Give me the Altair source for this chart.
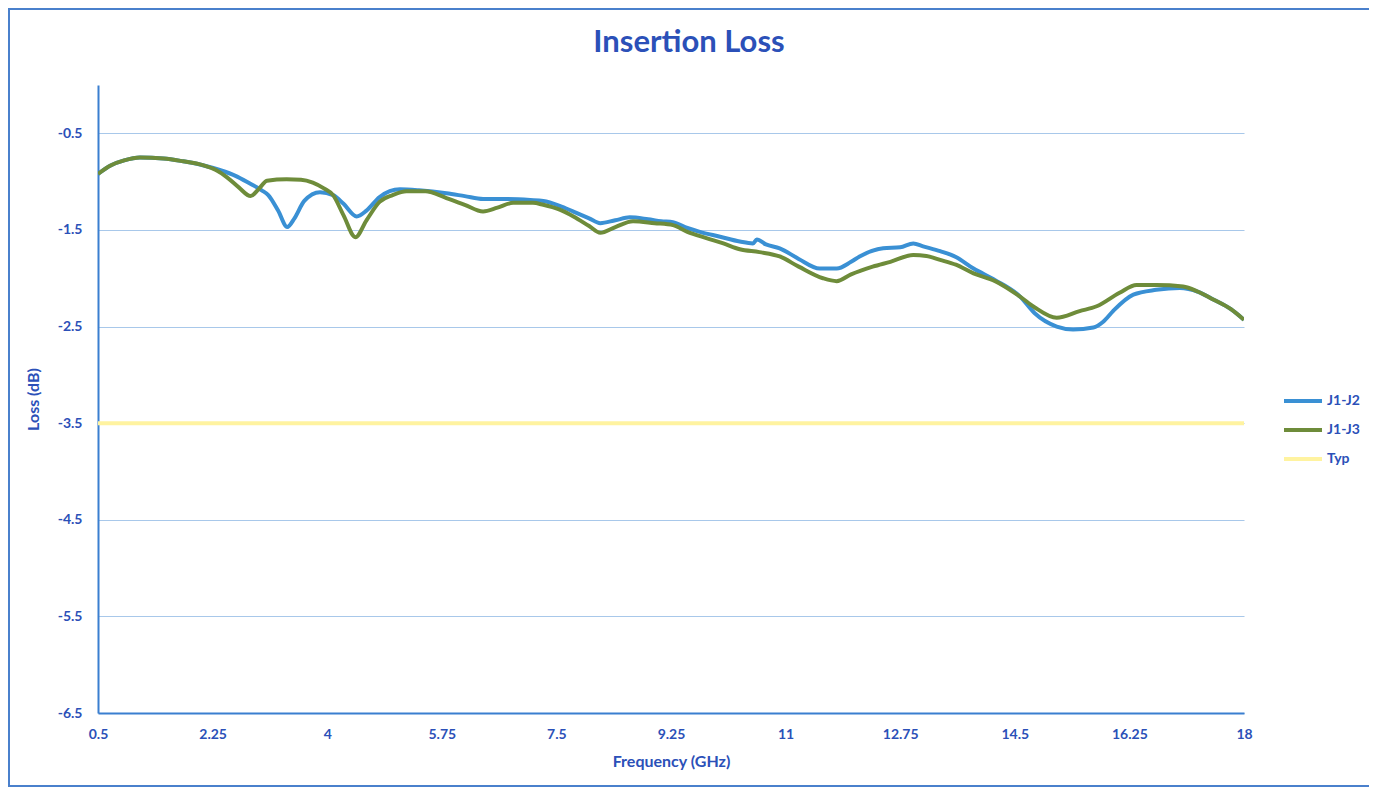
import altair as alt
import pandas as pd

# ---- data ----
j12_freq = [0.5, 0.7, 0.9, 1.14, 1.5, 1.8, 2.1, 2.36, 2.6, 2.82, 3.0, 3.1, 3.25, 3.39, 3.5, 3.65,
            3.89, 4.09, 4.25, 4.45, 4.6, 4.8, 5.11, 5.4, 5.82, 6.1, 6.38, 6.7, 7.1, 7.3, 7.55, 7.76,
            8.0, 8.17, 8.4, 8.62, 8.9, 9.1, 9.28, 9.5, 9.69, 10.0, 10.3, 10.5, 10.56, 10.7, 10.91,
            11.2, 11.52, 11.78, 12.0, 12.13, 12.49, 12.75, 12.95, 13.1, 13.36, 13.6, 13.87, 14.2,
            14.58, 14.8, 15.14, 15.39, 15.7, 15.85, 16.0, 16.31, 16.66, 17.02, 17.3, 17.53, 17.8, 18.0]
j12_loss = [-0.92, -0.83, -0.78, -0.75, -0.76, -0.79, -0.83, -0.88, -0.94, -1.02, -1.09, -1.14,
            -1.30, -1.47, -1.38, -1.20, -1.11, -1.14, -1.23, -1.36, -1.30, -1.16, -1.08, -1.09,
            -1.12, -1.15, -1.18, -1.18, -1.19, -1.20, -1.25, -1.31, -1.38, -1.43, -1.40, -1.37,
            -1.39, -1.41, -1.42, -1.48, -1.52, -1.57, -1.62, -1.64, -1.60, -1.65, -1.69, -1.80,
            -1.90, -1.90, -1.83, -1.775, -1.69, -1.68, -1.64, -1.67, -1.72, -1.78, -1.90, -2.02,
            -2.19, -2.36, -2.50, -2.53, -2.51, -2.45, -2.34, -2.17, -2.12, -2.10, -2.14, -2.22,
            -2.32, -2.43]

j13_freq = [0.5, 0.7, 0.9, 1.14, 1.5, 1.8, 2.1, 2.3, 2.46, 2.65, 2.83, 2.95, 3.08, 3.38, 3.6,
            3.78, 3.95, 4.09, 4.25, 4.43, 4.6, 4.8, 5.0, 5.21, 5.5, 5.82, 6.1, 6.38, 6.6, 6.84,
            7.14, 7.3, 7.55, 7.76, 8.0, 8.17, 8.4, 8.67, 9.0, 9.28, 9.5, 9.79, 10.05, 10.3, 10.6,
            10.91, 11.2, 11.57, 11.78, 12.0, 12.33, 12.6, 12.95, 13.15, 13.36, 13.6, 13.87, 14.2,
            14.58, 14.8, 15.14, 15.49, 15.75, 16.1, 16.36, 16.66, 17.07, 17.3, 17.53, 17.8, 18.0]
j13_loss = [-0.92, -0.83, -0.78, -0.75, -0.76, -0.79, -0.83, -0.88, -0.95, -1.06, -1.15, -1.08,
            -0.99, -0.975, -0.98, -1.01, -1.07, -1.14, -1.35, -1.575, -1.40, -1.21, -1.14, -1.10,
            -1.10, -1.17, -1.24, -1.31, -1.27, -1.22, -1.22, -1.24, -1.29, -1.36, -1.46, -1.53,
            -1.47, -1.41, -1.43, -1.45, -1.52, -1.585, -1.64, -1.70, -1.73, -1.775, -1.88, -2.00,
            -2.03, -1.96, -1.88, -1.83, -1.76, -1.77, -1.81, -1.86, -1.95, -2.03, -2.19, -2.30,
            -2.41, -2.34, -2.29, -2.15, -2.07, -2.07, -2.085, -2.14, -2.22, -2.32, -2.43]

typ_freq = [0.5, 18.0]
typ_loss = [-3.5, -3.5]

series_names = ["J1-J2", "J1-J3", "Typ"]
series_colors = ["#3a90d4", "#6e8c3a", "#fff3a0"]
x_ticks = [0.5, 2.25, 4, 5.75, 7.5, 9.25, 11, 12.75, 14.5, 16.25, 18]
y_ticks = [-0.5, -1.5, -2.5, -3.5, -4.5, -5.5, -6.5]
chart_title = ["Insertion Loss"]

rows = []
for name, fr, ls in [("J1-J2", j12_freq, j12_loss), ("J1-J3", j13_freq, j13_loss), ("Typ", typ_freq, typ_loss)]:
    for f, l in zip(fr, ls):
        rows.append({"freq": f, "loss": l, "series": name})
df = pd.DataFrame(rows)

TEXT = "#2b50b8"
FONT = "Lato"

lines = alt.Chart(df).mark_line(interpolate="monotone", clip=True).encode(
    x=alt.X("freq:Q", scale=alt.Scale(domain=[0.5, 18], nice=False, zero=False),
            axis=alt.Axis(values=x_ticks, title="Frequency (GHz)", grid=False, ticks=False,
                          labelExpr="'' + datum.value",
                          labelPadding=14, titlePadding=12, labelFlush=False)),
    y=alt.Y("loss:Q", scale=alt.Scale(domain=[-6.5, 0], nice=False, zero=False),
            axis=alt.Axis(values=y_ticks, title="Loss (dB)", grid=True, ticks=False,
                          labelExpr="'' + datum.value",
                          labelPadding=16, titlePadding=16, domain=True)),
    color=alt.Color("series:N", scale=alt.Scale(domain=series_names, range=series_colors),
                    legend=alt.Legend(title=None, orient="none", legendX=1184, legendY=295,
                                      symbolType="stroke", symbolSize=1444, symbolStrokeWidth=4,
                                      rowPadding=-6, labelFontSize=14, labelFont=FONT,
                                      labelFontWeight="bold", labelColor=TEXT, labelOffset=3)),
    strokeWidth=alt.StrokeWidth("series:N", scale=alt.Scale(domain=series_names, range=[4, 4, 3]),
                                legend=None),
)

frame = alt.Chart(pd.DataFrame({"a": [0]})).mark_rect(
    fill="transparent", stroke="#4a80cc", strokeWidth=2, clip=False
).encode(x=alt.value(-89), x2=alt.value(1278), y=alt.value(-76), y2=alt.value(701))

title_text = alt.Chart(pd.DataFrame({"t": chart_title})).mark_text(
    font=FONT, fontSize=31, fontWeight="bold", color=TEXT, align="center", baseline="middle"
).encode(text="t:N", x=alt.value(591), y=alt.value(-42))

chart = alt.layer(frame, lines, title_text).properties(
    width=1146, height=628,
    autosize=alt.AutoSizeParams(type="none"),
    padding={"left": 90, "top": 77, "right": 125, "bottom": 75},
    background="white",
).configure_view(stroke=None).configure_axis(
    labelFont=FONT, labelFontSize=14, labelFontWeight="bold", labelColor=TEXT,
    titleFont=FONT, titleFontSize=16, titleFontWeight="bold", titleColor=TEXT,
    domainColor="#3a7fd0", domainWidth=2, gridColor="#a8c8ea", gridWidth=1.2,
).configure_axisY(domain=True).configure_axisX(domain=True)

chart.save("out.html", embed_options={"renderer": "svg", "actions": False})
